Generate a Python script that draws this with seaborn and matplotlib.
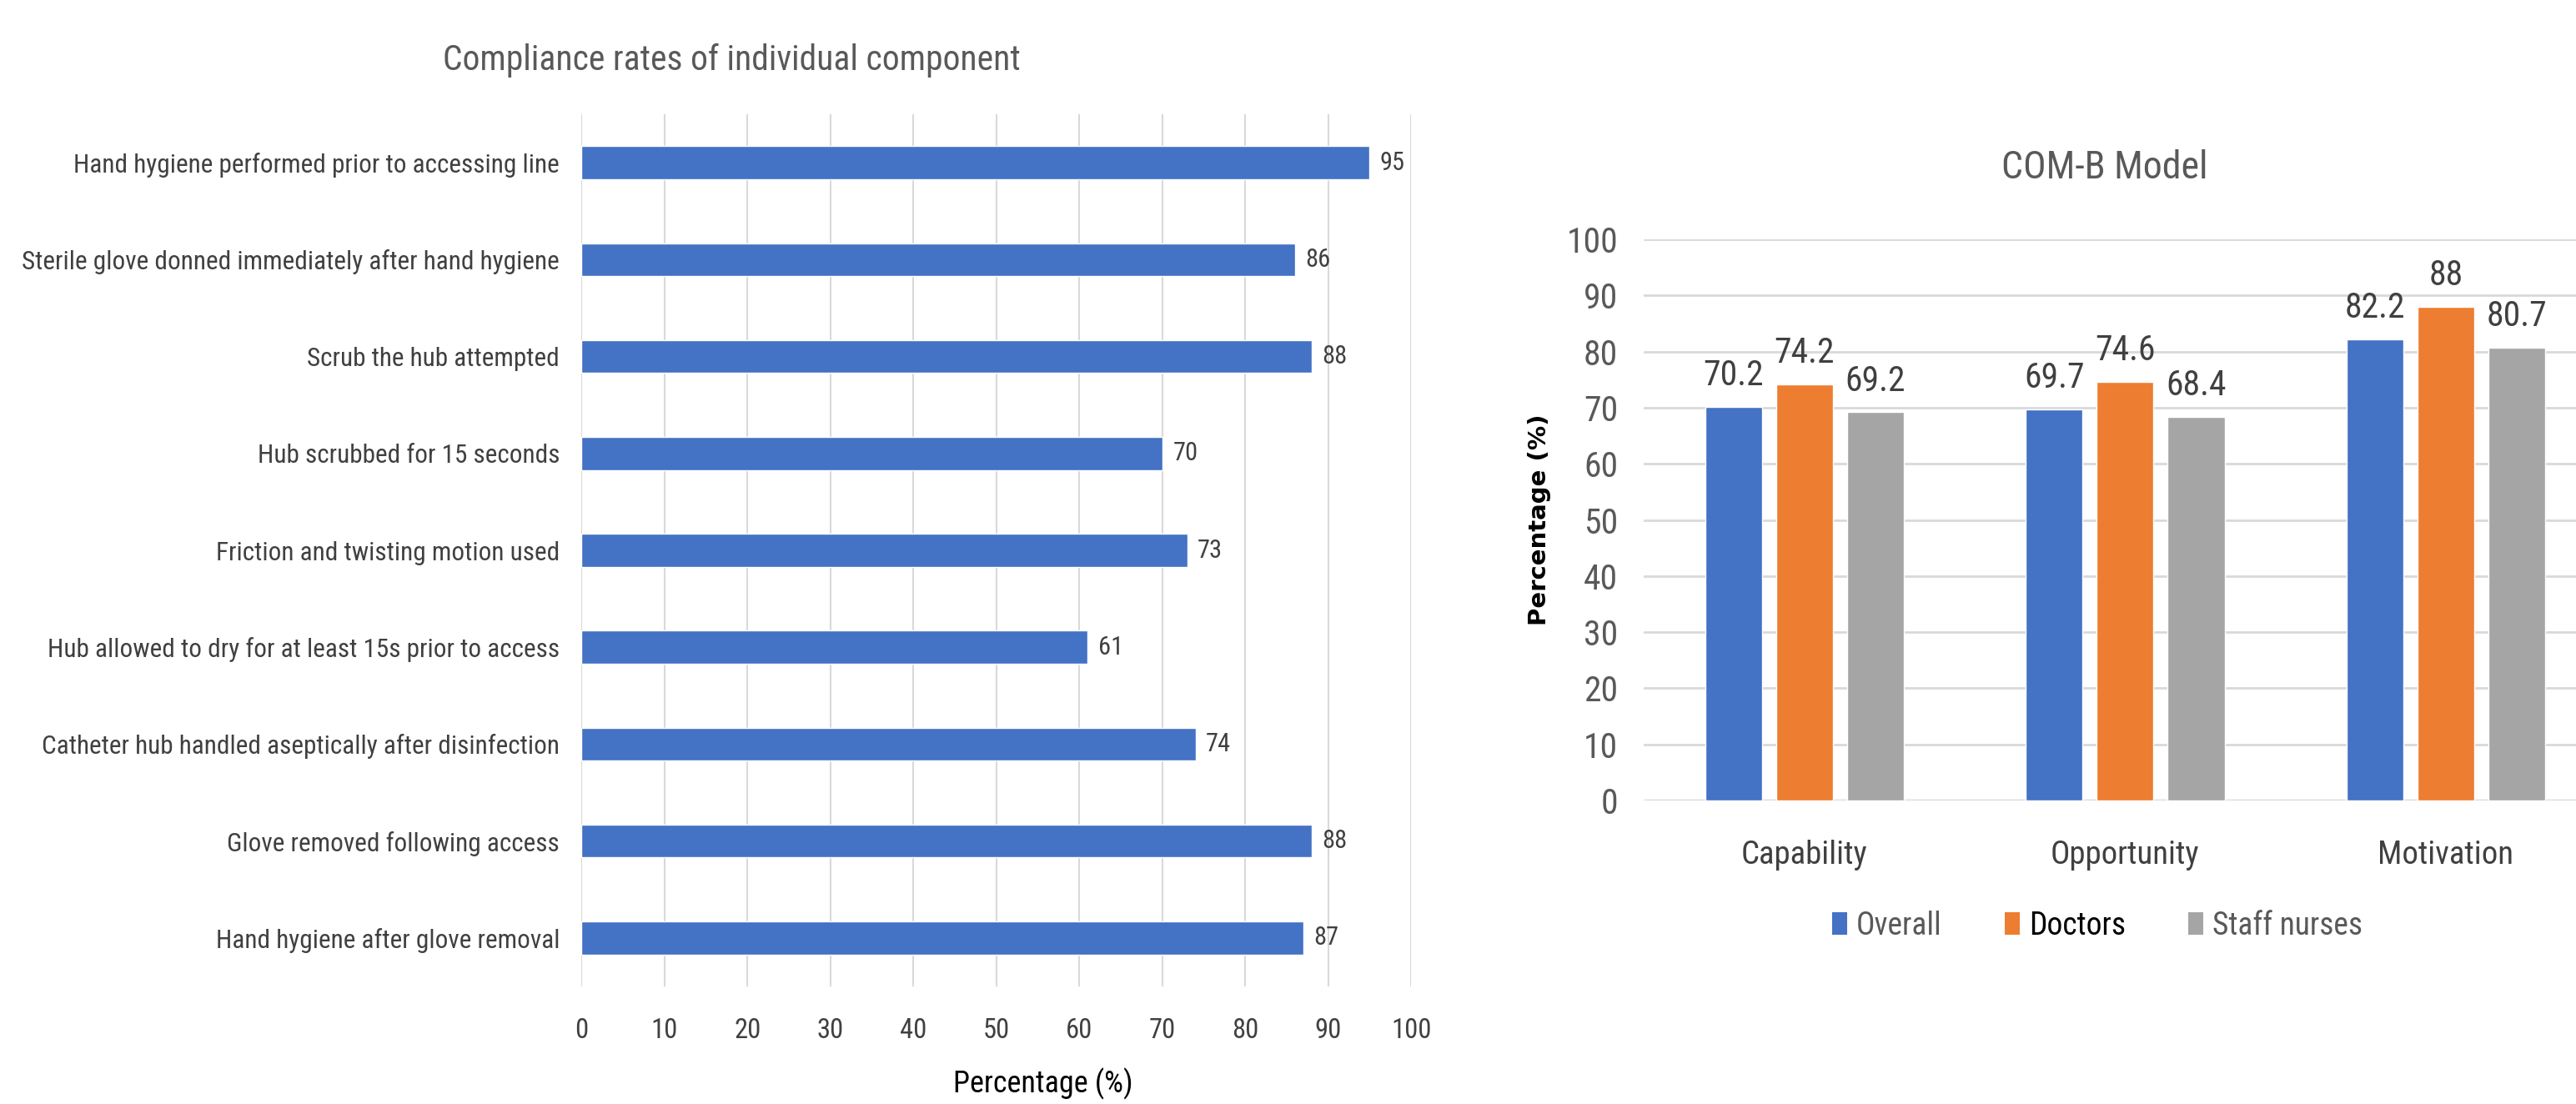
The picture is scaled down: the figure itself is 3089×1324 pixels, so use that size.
import matplotlib
matplotlib.use("Agg")
import matplotlib.pyplot as plt
from matplotlib import font_manager
from matplotlib.patches import Patch
import seaborn as sns
import pandas as pd

# ---------------- data ----------------
components = [
    "Hand hygiene performed prior to accessing line",
    "Sterile glove donned immediately after hand hygiene",
    "Scrub the hub attempted",
    "Hub scrubbed for 15 seconds",
    "Friction and twisting motion used",
    "Hub allowed to dry for at least 15s prior to access",
    "Catheter hub handled aseptically after disinfection",
    "Glove removed following access",
    "Hand hygiene after glove removal",
]
compliance = [95, 86, 88, 70, 73, 61, 74, 88, 87]

domains = ["Capability", "Opportunity", "Motivation"]
groups = ["Overall", "Doctors", "Staff nurses"]
overall = [70.2, 69.7, 82.2]
doctors = [74.2, 74.6, 88]
staff_nurses = [69.2, 68.4, 80.7]

# ---------------- style ----------------
sns.set_theme(style="white")
def pick(names):
    for n in names:
        try:
            font_manager.findfont(n, fallback_to_default=False)
            return n
        except Exception:
            pass
    return "DejaVu Sans"
NARROW = pick(["Liberation Sans Narrow", "Roboto Condensed", "Liberation Sans"])
plt.rcParams["font.family"] = [NARROW, "DejaVu Sans"]

BLUE, ORANGE, GRAY = "#4472C4", "#ED7D31", "#A5A5A5"
TXT = "#404040"
TTL = "#595959"
GRID = "#D9D9D9"

fig = plt.figure(figsize=(30.89, 13.24), dpi=100)
fig.patch.set_facecolor("white")

# ---------------- left chart ----------------
ax1 = fig.add_axes([0.2258, 0.1065, 0.322, 0.79])
df1 = pd.DataFrame({"component": components, "value": compliance})
sns.barplot(data=df1, x="value", y="component", orient="h", color=BLUE,
            width=0.34, saturation=1, ax=ax1)
ax1.set_xlim(0, 100)
ax1.set_ylim(8.5, -0.5)
ax1.set_xticks(range(0, 101, 10))
ax1.xaxis.grid(True, color=GRID, linewidth=1.5)
ax1.yaxis.grid(False)
ax1.set_axisbelow(True)
for s in ax1.spines.values():
    s.set_visible(False)
ax1.tick_params(axis="y", length=0, pad=19, labelsize=22.5, labelcolor=TXT)
ax1.tick_params(axis="x", length=0, pad=27, labelsize=23.5, labelcolor=TXT)
ax1.set_xlabel("")
ax1.set_ylabel("")
ax1.bar_label(ax1.containers[0], labels=[str(v) for v in compliance],
              padding=9, fontsize=22, color=TXT)
fig.text(0.2840, 0.945, "Compliance rates of individual component",
         ha="center", va="center", fontsize=30, color=TTL)
fig.text(0.405, 0.004, "Percentage (%)", ha="center", va="bottom",
         fontsize=26, color="black")

# ---------------- right chart ----------------
ax2 = fig.add_axes([0.638, 0.2749, 0.362, 0.5083])
df2 = pd.DataFrame({
    "domain": domains * 3,
    "group": [g for g in groups for _ in domains],
    "value": overall + doctors + staff_nurses,
})
sns.barplot(data=df2, x="domain", y="value", hue="group", order=domains,
            hue_order=groups, palette=[BLUE, ORANGE, GRAY], saturation=1,
            width=0.664, gap=0.2, ax=ax2, legend=False)
ax2.set_ylim(0, 100)
ax2.set_xlim(-0.502, 2.406)
ax2.set_yticks(range(0, 101, 10))
ax2.yaxis.grid(True, color=GRID, linewidth=2)
ax2.xaxis.grid(False)
ax2.set_axisbelow(True)
for s in ax2.spines.values():
    s.set_visible(False)
ax2.axhline(0, color=GRID, linewidth=2.5, zorder=0.5)
ax2.tick_params(axis="y", length=0, pad=22, labelsize=30, labelcolor=TTL)
ax2.tick_params(axis="x", length=0, pad=34, labelsize=28, labelcolor=TXT)
ax2.set_xlabel("")
ax2.set_ylabel("")
for cont, vals in zip(ax2.containers, [overall, doctors, staff_nurses]):
    ax2.bar_label(cont, labels=[f"{v:g}" for v in vals], padding=12,
                  fontsize=30, color=TXT)
fig.text(0.817, 0.848, "COM-B Model", ha="center", va="center",
         fontsize=33, color=TTL)
fig.text(0.5976, 0.529, "Percentage (%)", rotation=90, ha="center",
         va="center", fontsize=21, fontweight="bold", color="black",
         family="DejaVu Sans")

handles = [Patch(facecolor=c, edgecolor="none") for c in (BLUE, ORANGE, GRAY)]
leg = fig.legend(handles, groups, loc="center", bbox_to_anchor=(0.8142, 0.1616),
                 ncol=3, frameon=False, fontsize=27, handlelength=0.48,
                 handleheight=0.75, handletextpad=0.3, columnspacing=2.0)
for t, c in zip(leg.get_texts(), [TTL, "black", TTL]):
    t.set_color(c)

fig.savefig("out.png", dpi=100, facecolor="white")
